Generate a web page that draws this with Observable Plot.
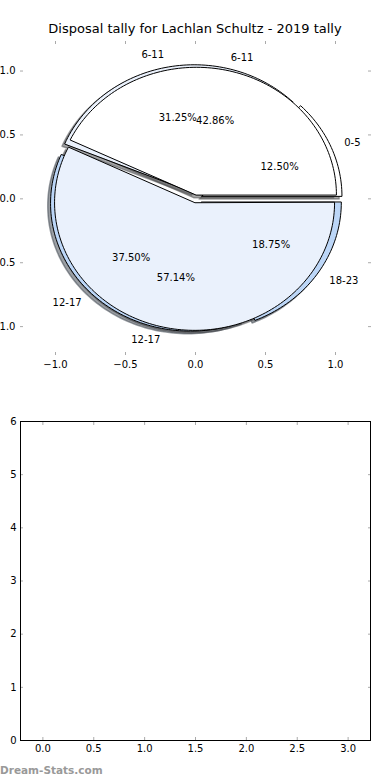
<!DOCTYPE html>
<html><head><meta charset="utf-8">
<script src="https://cdn.jsdelivr.net/npm/d3@7"></script>
<script src="https://cdn.jsdelivr.net/npm/@observablehq/plot@0.6"></script>
<style>
body{margin:0;background:#fff;font-family:"DejaVu Sans",sans-serif;}
#wrap{position:relative;width:390px;height:780px;overflow:hidden;background:#fff;}
#top{position:absolute;top:0;left:0;}
#bottom{position:absolute;top:380px;left:0;}
#title{position:absolute;top:21px;left:0;width:390px;text-align:center;font-size:13px;line-height:16px;color:#000;z-index:2;}
#mark{position:absolute;left:0;top:764px;font-size:10.5px;line-height:12px;font-weight:bold;color:#999;z-index:2;}
</style></head><body>
<div id="wrap">
  <div id="top"></div>
  <div id="bottom"></div>
  <div id="title"></div>
  <div id="mark"></div>
</div>
<script>
const titleText = "Disposal tally for Lachlan Schultz - 2019 tally";
const watermark = "Dream-Stats.com";

// Pie 1 (drawn first, underneath)
const pie1Labels = ["0-5", "6-11", "12-17", "18-23"];
const pie1Values = [2, 5, 6, 3];
const pie1Colors = ["#ffffff", "#eaf1fc", "#bcd6f7", "#bcd6f7"];
const pie1Explode = [0.05, 0.05, 0.05, 0.05];

// Pie 2 (drawn on top)
const pie2Labels = ["6-11", "12-17"];
const pie2Values = [3, 4];
const pie2Colors = ["#ffffff", "#eaf1fc"];
const pie2Explode = [0.03, 0.03];

// axes ticks
const topTicks = [-1, -0.5, 0, 0.5, 1];
const bottomXTicks = [0, 0.5, 1, 1.5, 2, 2.5, 3];
const bottomYTicks = [0, 1, 2, 3, 4, 5, 6];

const shadowOffset = 0.02;
const labelDistance = 1.1;
const pctDistance = 0.6;

function buildPie(values, colors, explode, labels) {
  const total = d3.sum(values);
  let a = 0;
  return values.map((v, i) => {
    const a0 = a, a1 = a + 360 * v / total; a = a1;
    const mid = (a0 + a1) / 2 * Math.PI / 180;
    const cx = explode[i] * Math.cos(mid), cy = explode[i] * Math.sin(mid);
    const pts = [{x: cx, y: cy}];
    const n = Math.max(2, Math.ceil((a1 - a0) / 1.5));
    for (let k = 0; k <= n; k++) {
      const t = (a0 + (a1 - a0) * k / n) * Math.PI / 180;
      pts.push({x: cx + Math.cos(t), y: cy + Math.sin(t)});
    }
    return {
      pts, color: colors[i], label: labels[i], pct: v / total * 100,
      lx: cx + labelDistance * Math.cos(mid), ly: cy + labelDistance * Math.sin(mid),
      px: cx + pctDistance * Math.cos(mid), py: cy + pctDistance * Math.sin(mid)
    };
  });
}

const pie1 = buildPie(pie1Values, pie1Colors, pie1Explode, pie1Labels);
const pie2 = buildPie(pie2Values, pie2Colors, pie2Explode, pie2Labels);
const all = [...pie1, ...pie2];

function shade(c) {
  const r = d3.rgb(c);
  return d3.rgb(r.r * 0.3, r.g * 0.3, r.b * 0.3).formatHex();
}

const fmt1 = d3.format(".1f");
const tickGray = "#aaaaaa";

const shadowMarks = all.map(w => Plot.line(w.pts, {
  x: d => d.x - shadowOffset, y: d => d.y - shadowOffset,
  fill: shade(w.color), fillOpacity: 0.5, stroke: shade(w.color), strokeOpacity: 0.5,
  curve: "linear-closed"
}));
const wedgeMarks = all.map(w => Plot.line(w.pts, {
  x: "x", y: "y", fill: w.color, stroke: "black", strokeWidth: 1,
  curve: "linear-closed", strokeLinejoin: "miter"
}));

const topPlot = Plot.plot({
  width: 390, height: 380,
  marginTop: 40, marginBottom: 25, marginLeft: 20, marginRight: 20,
  style: {fontFamily: "DejaVu Sans", fontSize: "10px", background: "transparent", color: "black"},
  x: {domain: [-1.25, 1.25]},
  y: {domain: [-1.226, 1.239]},
  marks: [
    ...shadowMarks,
    ...wedgeMarks,
    Plot.text(all.filter(w => w.lx > 0), {x: "lx", y: "ly", text: "label", textAnchor: "start", fill: "black", fontSize: 10}),
    Plot.text(all.filter(w => w.lx <= 0), {x: "lx", y: "ly", text: "label", textAnchor: "end", fill: "black", fontSize: 10}),
    Plot.text(all, {x: "px", y: "py", text: w => w.pct.toFixed(2) + "%", fill: "black", fontSize: 10}),
    Plot.axisX(topTicks, {anchor: "top", tickSize: 3, dy: 3, fill: "none", stroke: tickGray, label: null}),
    Plot.axisX(topTicks, {anchor: "bottom", tickSize: 3, dy: -3, fill: "none", stroke: tickGray, label: null}),
    Plot.axisY(topTicks, {anchor: "left", tickSize: 3, dx: 3, fill: "none", stroke: tickGray, label: null}),
    Plot.axisY(topTicks, {anchor: "right", tickSize: 3, dx: -3, fill: "none", stroke: tickGray, label: null}),
    Plot.axisX(topTicks, {anchor: "bottom", tickSize: 0, tickPadding: 5, tickFormat: fmt1, fill: "black", label: null}),
    Plot.axisY(topTicks, {anchor: "left", tickSize: 0, tickPadding: 5, tickFormat: fmt1, fill: "black", label: null})
  ]
});
document.getElementById("top").appendChild(topPlot);

const bottomPlot = Plot.plot({
  width: 390, height: 400,
  marginTop: 41, marginBottom: 40, marginLeft: 20, marginRight: 20,
  style: {fontFamily: "DejaVu Sans", fontSize: "10px", background: "transparent", color: "black"},
  x: {domain: [-0.22, 3.22]},
  y: {domain: [0, 6]},
  marks: [
    Plot.axisX(bottomXTicks, {anchor: "top", tickSize: 3, dy: 3, fill: "none", stroke: tickGray, label: null}),
    Plot.axisX(bottomXTicks, {anchor: "bottom", tickSize: 3, dy: -3, fill: "none", stroke: tickGray, label: null}),
    Plot.axisY(bottomYTicks, {anchor: "left", tickSize: 3, dx: 3, fill: "none", stroke: tickGray, label: null}),
    Plot.axisY(bottomYTicks, {anchor: "right", tickSize: 3, dx: -3, fill: "none", stroke: tickGray, label: null}),
    Plot.frame({stroke: "black", strokeWidth: 1}),
    Plot.axisX(bottomXTicks, {anchor: "bottom", tickSize: 0, tickPadding: 4, tickFormat: fmt1, fill: "black", label: null}),
    Plot.axisY(bottomYTicks, {anchor: "left", tickSize: 0, tickPadding: 4, tickFormat: d3.format("d"), fill: "black", label: null})
  ]
});
document.getElementById("bottom").appendChild(bottomPlot);

document.getElementById("title").textContent = titleText;
document.getElementById("mark").textContent = watermark;
</script>
</body></html>
